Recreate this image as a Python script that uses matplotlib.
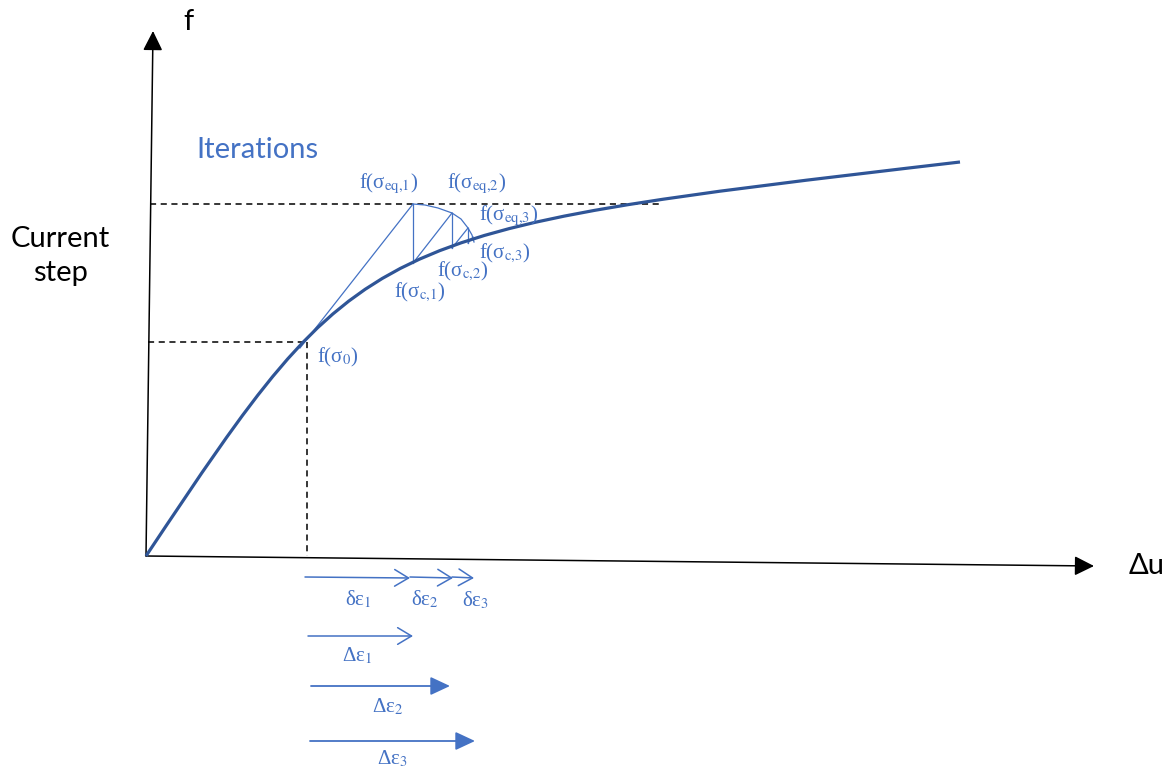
import numpy as np
import matplotlib
matplotlib.use("Agg")
import matplotlib.pyplot as plt
from matplotlib.path import Path
from matplotlib.patches import PathPatch

# farger
blue = '#4472C4'
darkBlue = '#2F5597'

# kurvan som en kubisk bezier: start, tva kontrollpunkter, slut (pixelkoordinater)
curveX = [146, 362, 362, 960]
curveY = [556, 232, 232, 162]

# axlar
originPt = (146, 556)
yAxisTip = (153, 31)
xAxisTip = (1094, 566)

# iterationspunkter
eqX = [413, 452, 468]
eqY = [204, 213, 228]
cX = [413, 452, 468]
cY = [263, 248, 243]
arcX = [413, 425, 438, 452, 461, 468, 472, 474]
arcY = [204, 205, 208, 213, 219, 228, 235, 242]
sigma0 = (305, 342)
tangentStart = (300, 348)
lastDiagEnd = (473, 237)

# etiketter
fLabels = ['f(σ$_{\\mathrm{eq{,}1}}$)', 'f(σ$_{\\mathrm{eq{,}2}}$)', 'f(σ$_{\\mathrm{eq{,}3}}$)',
           'f(σ$_{\\mathrm{c{,}1}}$)', 'f(σ$_{\\mathrm{c{,}2}}$)', 'f(σ$_{\\mathrm{c{,}3}}$)', 'f(σ$_0$)']
fLabelX = [389, 477, 509, 420, 463, 505, 338]
fLabelY = [184, 184, 216, 292, 271, 253, 357]

# pilar under x-axeln
deltaStartX = [305, 410, 452]
deltaEndX = [410, 453, 474]
deltaRowY = 577
deltaLabels = ['δε$_1$', 'δε$_2$', 'δε$_3$']
deltaLabelX = [358, 425, 476]
deltaLabelY = [599, 599, 600]

bigStartX = [308, 311, 310]
bigEndX = [413, 450, 475]
bigY = [636, 686, 741]
bigLabels = ['Δε$_1$', 'Δε$_2$', 'Δε$_3$']
bigLabelX = [357, 388, 392]
bigLabelY = [656, 707, 759]

plt.rcParams['mathtext.fontset'] = 'stix'

fig = plt.figure(figsize=(11.73, 7.69), dpi=100)
ax = fig.add_axes([0, 0, 1, 1])
ax.set_xlim(0, 1173)
ax.set_ylim(769, 0)
ax.axis('off')

# axlar med pilspetsar
axisArrow = dict(arrowstyle='-|>,head_length=0.6,head_width=0.3', mutation_scale=20,
                 color='black', lw=1.1, shrinkA=0, shrinkB=0)
ax.annotate('', xy=yAxisTip, xytext=originPt, arrowprops=axisArrow)
ax.annotate('', xy=xAxisTip, xytext=originPt, arrowprops=axisArrow)

# streckade hjalplinjer
ax.plot([148, sigma0[0] + 2], [sigma0[1], sigma0[1]], color='black', ls=(0, (4, 3)), lw=1.1)
ax.plot([sigma0[0] + 2, sigma0[0] + 2], [sigma0[1], originPt[1]], color='black', ls=(0, (4, 3)), lw=1.1)
ax.plot([150, 660], [eqY[0], eqY[0]], color='black', ls=(0, (4, 3)), lw=1.1)

# kurvan
curvePath = Path(list(zip(curveX, curveY)), [Path.MOVETO, Path.CURVE4, Path.CURVE4, Path.CURVE4])
ax.add_patch(PathPatch(curvePath, facecolor='none', edgecolor=darkBlue, lw=2.3, zorder=3))

# iterationer
ax.plot([tangentStart[0], eqX[0]], [tangentStart[1], eqY[0]], color=blue, lw=0.9)
ax.plot(arcX, arcY, color=blue, lw=0.9)
for i in range(3):
    ax.plot([eqX[i], cX[i]], [eqY[i], cY[i]], color=blue, lw=0.9)
for i in range(2):
    ax.plot([cX[i], eqX[i + 1]], [cY[i], eqY[i + 1]], color=blue, lw=0.9)
ax.plot([cX[2], lastDiagEnd[0]], [cY[2], lastDiagEnd[1]], color=blue, lw=0.9)

for lab, x, y in zip(fLabels, fLabelX, fLabelY):
    ax.text(x, y, lab, color=blue, fontsize=15, family='Liberation Serif', ha='center', va='center')

# delta-pilar
openArrow = dict(arrowstyle='->,head_length=0.5,head_width=0.3', mutation_scale=20,
                 color=blue, lw=1.1, shrinkA=0, shrinkB=0)
for x0, x1 in zip(deltaStartX, deltaEndX):
    ax.annotate('', xy=(x1, deltaRowY + 1), xytext=(x0, deltaRowY), arrowprops=openArrow)
for lab, x, y in zip(deltaLabels, deltaLabelX, deltaLabelY):
    ax.text(x, y, lab, color=blue, fontsize=15, family='Liberation Serif', ha='center', va='center')

filledArrow = dict(arrowstyle='-|>,head_length=0.6,head_width=0.28', mutation_scale=20,
                   color=blue, lw=1.3, shrinkA=0, shrinkB=0)
for i in range(3):
    style = openArrow if i == 0 else filledArrow
    ax.annotate('', xy=(bigEndX[i], bigY[i]), xytext=(bigStartX[i], bigY[i]), arrowprops=style)
    ax.text(bigLabelX[i], bigLabelY[i], bigLabels[i], color=blue, fontsize=15,
            family='Liberation Serif', ha='center', va='center')

# ovriga texter
ax.text(188, 22, 'f', fontsize=21, family='Lato', ha='center', va='center')
ax.text(1147, 566, 'Δu', fontsize=21, family='Lato', ha='center', va='center')
ax.text(60, 256, 'Current\nstep', fontsize=21, family='Lato', ha='center', va='center', linespacing=1.35)
ax.text(257, 150, 'Iterations', fontsize=21, family='Lato', color=blue, ha='center', va='center')

fig.savefig('out.png', dpi=100, facecolor='white')
